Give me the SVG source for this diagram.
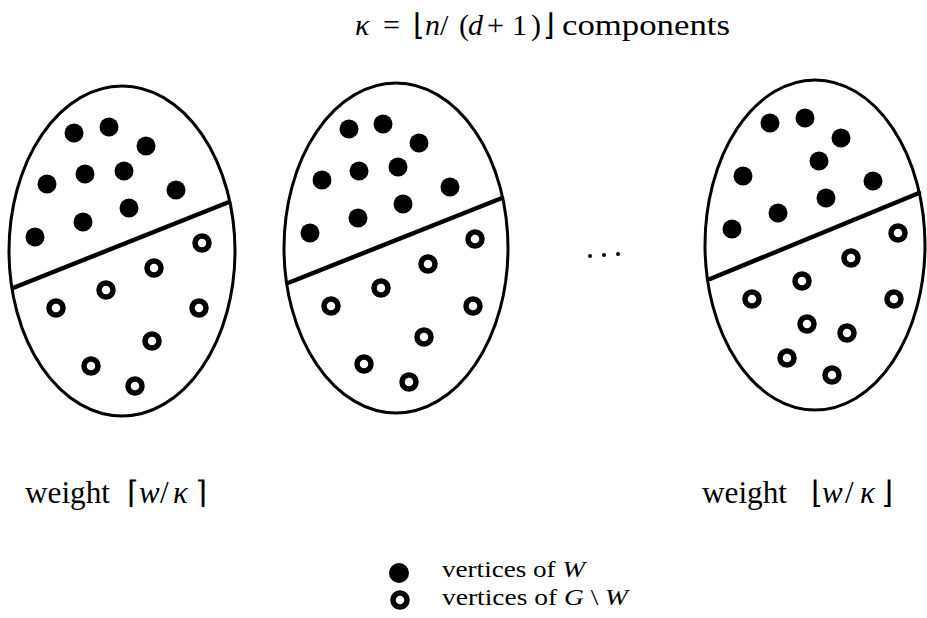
<svg xmlns="http://www.w3.org/2000/svg" width="927" height="618" viewBox="0 0 927 618">
<style>
.oval{fill:none;stroke:#000;stroke-width:3}
.cut{stroke:#000;stroke-width:4.5;stroke-linecap:round}
.f{fill:#000}
.o{fill:none;stroke:#000;stroke-width:5.5}
text{font-family:"Liberation Serif","Times New Roman",serif;fill:#000}
.it{font-style:italic}
.t{font-size:30px}
.l{font-size:31px}
.g{font-size:24px}
</style>
<defs>
<circle id="fd" r="9.5" class="f"/>
<circle id="od" r="7" class="o"/>
</defs>
<rect width="927" height="618" fill="#fff"/>

<g id="title">
<text class="t it" x="355" y="35">κ</text>
<text class="t" x="383" y="35">=</text>
<text class="t" x="413" y="35">⌊</text>
<text class="t it" x="425" y="35">n</text>
<text class="t" x="440" y="35">/</text>
<text class="t" x="459" y="35">(</text>
<text class="t it" x="468" y="35">d</text>
<text class="t" x="487" y="35">+</text>
<text class="t" x="512" y="35">1</text>
<text class="t" x="531" y="35">)</text>
<text class="t" x="543" y="35">⌋</text>
<text class="t" x="562" y="35" textLength="168" lengthAdjust="spacingAndGlyphs">components</text>
</g>

<g id="component1">
<ellipse class="oval" cx="122" cy="251" rx="113" ry="165"/>
<line class="cut" x1="13" y1="288" x2="229" y2="202"/>
<use href="#fd" x="74" y="133"/><use href="#fd" x="109" y="127"/><use href="#fd" x="146" y="146"/>
<use href="#fd" x="47" y="184"/><use href="#fd" x="85" y="174"/><use href="#fd" x="124" y="171"/>
<use href="#fd" x="176" y="190"/><use href="#fd" x="129" y="208"/><use href="#fd" x="83" y="222"/>
<use href="#fd" x="35" y="237"/>
<use href="#od" x="202" y="243"/><use href="#od" x="154" y="268"/><use href="#od" x="106" y="290"/>
<use href="#od" x="56" y="308"/><use href="#od" x="199" y="308"/><use href="#od" x="152" y="341"/>
<use href="#od" x="91" y="366"/><use href="#od" x="135" y="386"/>
</g>

<g id="component2">
<ellipse class="oval" cx="396" cy="248" rx="112" ry="165"/>
<line class="cut" x1="288" y1="283" x2="502" y2="198"/>
<use href="#fd" x="349" y="129"/><use href="#fd" x="383" y="124"/><use href="#fd" x="419" y="143"/>
<use href="#fd" x="322" y="180"/><use href="#fd" x="359" y="171"/><use href="#fd" x="398" y="167"/>
<use href="#fd" x="450" y="187"/><use href="#fd" x="403" y="204"/><use href="#fd" x="358" y="218"/>
<use href="#fd" x="310" y="233"/>
<use href="#od" x="475" y="239"/><use href="#od" x="428" y="264"/><use href="#od" x="381" y="288"/>
<use href="#od" x="331" y="306"/><use href="#od" x="473" y="306"/><use href="#od" x="424" y="337"/>
<use href="#od" x="364" y="364"/><use href="#od" x="409" y="382"/>
</g>

<g id="ellipsis">
<circle class="f" cx="590" cy="256" r="2"/>
<circle class="f" cx="604" cy="255" r="2"/>
<circle class="f" cx="618" cy="254" r="2"/>
</g>

<g id="component3">
<ellipse class="oval" cx="815" cy="245" rx="110" ry="165"/>
<line class="cut" x1="710" y1="279" x2="919" y2="193"/>
<use href="#fd" x="770" y="123"/><use href="#fd" x="805" y="118"/><use href="#fd" x="841" y="138"/>
<use href="#fd" x="743" y="176"/><use href="#fd" x="819" y="161"/><use href="#fd" x="873" y="181"/>
<use href="#fd" x="826" y="198"/><use href="#fd" x="778" y="213"/><use href="#fd" x="732" y="229"/>
<use href="#od" x="898" y="233"/><use href="#od" x="851" y="258"/><use href="#od" x="802" y="281"/>
<use href="#od" x="752" y="299"/><use href="#od" x="894" y="299"/><use href="#od" x="807" y="324"/>
<use href="#od" x="847" y="333"/><use href="#od" x="787" y="358"/><use href="#od" x="832" y="375"/>
</g>

<g id="label1">
<text class="l" x="25" y="503" textLength="85" lengthAdjust="spacingAndGlyphs">weight</text>
<text class="l" x="127" y="503">⌈</text>
<text class="l it" x="139" y="503">w</text>
<text class="l" x="160" y="503">/</text>
<text class="l it" x="173" y="503">κ</text>
<text class="l" x="195" y="503">⌉</text>
</g>

<g id="label2">
<text class="l" x="702" y="503" textLength="85" lengthAdjust="spacingAndGlyphs">weight</text>
<text class="l" x="811" y="503">⌊</text>
<text class="l it" x="822" y="503">w</text>
<text class="l" x="845" y="503">/</text>
<text class="l it" x="860" y="503">κ</text>
<text class="l" x="881" y="503">⌋</text>
</g>

<g id="legend">
<circle class="f" cx="399" cy="573" r="10"/>
<circle class="o" cx="400" cy="600" r="7"/>
<text class="g" x="442" y="577" textLength="143" lengthAdjust="spacingAndGlyphs">vertices of <tspan class="it">W</tspan></text>
<text class="g" x="442" y="605" textLength="186" lengthAdjust="spacingAndGlyphs">vertices of <tspan class="it">G</tspan> \ <tspan class="it">W</tspan></text>
</g>

<g id="connectors"></g>
</svg>
